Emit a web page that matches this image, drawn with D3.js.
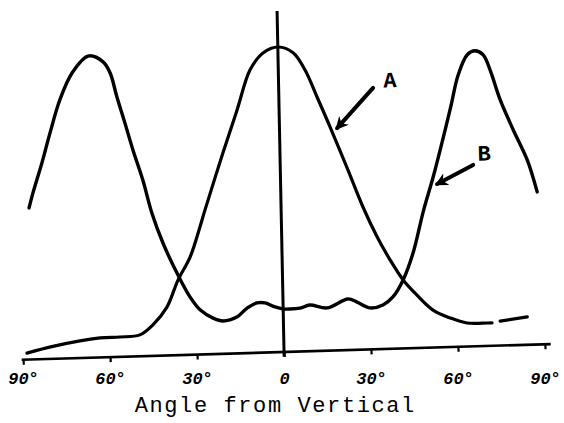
<!DOCTYPE html>
<html>
<head>
<meta charset="utf-8">
<script src="https://cdn.jsdelivr.net/npm/d3@7"></script>
<style>
  html, body { margin: 0; padding: 0; background: #fff; }
  svg { display: block; }
</style>
</head>
<body>
<svg id="chart" width="564" height="423"></svg>
<script>
// ---- data (angle in degrees from vertical, relative response) ----
const angleA = [-88.6,-79.2,-63.3,-56.4,-49.5,-44.9,-39.9,-35.8,-31.4,-27.7,-25.8,-19.0,-13.7,-8.8,-4.2,1.1,6.2,10.1,14.0,18.2,23.7,28.7,33.3,37.5,41.8,46.4,51.8,57.6,63.4,70.3,72.0,73.2,74.8,84.2];
const valueA = [2.1,4.1,6.3,6.4,6.9,10.0,15.6,24.2,31.5,41.1,46.5,64.8,78.5,91.3,96.6,98.4,96.4,90.8,81.9,72.1,58.6,46.0,36.2,28.7,22.1,17.1,12.1,9.4,7.6,7.4,7.4,null,7.9,9.0];

const angleB = [-86.4,-84.9,-81.5,-78.4,-74.7,-70.2,-64.5,-59.4,-57.1,-55.0,-52.5,-50.0,-46.9,-44.1,-40.6,-35.8,-31.8,-28.5,-24.1,-20.7,-15.9,-12.3,-8.8,-6.0,-2.6,0.1,2.5,6.0,9.4,15.3,22.6,25.7,30.1,34.6,38.1,41.8,45.5,49.6,53.2,56.6,60.0,62.8,66.2,68.9,71.7,73.9,77.1,81.3,85.8,88.9];
const valueB = [48.9,53.7,63.3,72.9,83.4,92.0,97.3,95.3,91.7,83.9,75.4,66.6,56.8,46.0,36.3,25.9,18.6,14.4,11.6,10.6,11.7,14.5,16.1,16.0,14.6,13.9,13.8,14.0,14.9,13.8,16.5,15.4,13.4,14.2,16.7,22.1,30.7,44.5,55.0,66.0,77.5,87.5,94.1,95.3,93.9,89.0,79.2,69.4,59.6,49.2];

const tickAngles = [-90,-60,-30,0,30,60,90];
const tickLabels = ["90°","60°","30°","0","30°","60°","90°"];
const xTitle = "Angle from Vertical";

// vertical reference line (hand-drawn, slightly leaning)
const zeroLineAngle = [0, 1.1];
const zeroLineValue = [-1.5, 110.0];

// annotations: label, label position, arrow tail, arrow head
const annoNames = ["A","B"];
const annoLabelAngle = [39.3, 71.0];
const annoLabelValue = [86.1, 61.6];
const annoTailAngle = [33.4, 67.1];
const annoTailValue = [84.3, 58.5];
const annoHeadAngle = [20.6, 54.5];
const annoHeadValue = [71.7, 52.7];

// ---- drawing ----
const svg = d3.select("#chart");
const x = d3.scaleLinear().domain([-90, 90]).range([23, 545]);
const y = d3.scaleLinear().domain([0, 100]).range([352, 42]);

const plot = svg.append("g")
  .attr("transform", `rotate(-1.7, ${x(0)}, ${y(0)})`);

// axis line + ticks
const axis = d3.axisBottom(x).tickValues(tickAngles).tickSize(5).tickSizeOuter(0).tickFormat("");
const axG = plot.append("g").attr("transform", `translate(0, ${y(0)})`).call(axis);
axG.select(".domain").attr("stroke", "#000").attr("stroke-width", 2.6)
  .attr("d", `M${x(-90.5)},0H${x(92)}`);
axG.selectAll(".tick line").attr("stroke", "#000").attr("stroke-width", 2.2);

// vertical line
const lineGen = d3.line().x(d => x(d[0])).y(d => y(d[1]));
plot.append("path")
  .attr("d", lineGen(zeroLineAngle.map((a, i) => [a, zeroLineValue[i]])))
  .attr("stroke", "#000").attr("stroke-width", 3).attr("fill", "none");

// curves
const curve = d3.line()
  .defined(d => d[1] !== null)
  .x(d => x(d[0])).y(d => y(d[1]))
  .curve(d3.curveCatmullRom.alpha(0.5));

plot.append("path")
  .attr("d", curve(angleA.map((a, i) => [a, valueA[i]])))
  .attr("stroke", "#000").attr("stroke-width", 3.2).attr("fill", "none")
  .attr("stroke-linecap", "round").attr("stroke-linejoin", "round");

plot.append("path")
  .attr("d", curve(angleB.map((a, i) => [a, valueB[i]])))
  .attr("stroke", "#000").attr("stroke-width", 3.4).attr("fill", "none")
  .attr("stroke-linecap", "round").attr("stroke-linejoin", "round");

// arrowhead marker
svg.append("defs").append("marker")
  .attr("id", "head").attr("viewBox", "0 0 10 10")
  .attr("refX", 8).attr("refY", 5)
  .attr("markerWidth", 13).attr("markerHeight", 13)
  .attr("markerUnits", "userSpaceOnUse")
  .attr("orient", "auto")
  .append("path").attr("d", "M0,0L10,5L0,10L3,5Z").attr("fill", "#000");

annoNames.forEach((n, i) => {
  plot.append("path")
    .attr("d", lineGen([[annoTailAngle[i], annoTailValue[i]], [annoHeadAngle[i], annoHeadValue[i]]]))
    .attr("stroke", "#000").attr("stroke-width", 4).attr("fill", "none")
    .attr("stroke-linecap", "round")
    .attr("marker-end", "url(#head)");
  plot.append("text")
    .attr("x", x(annoLabelAngle[i])).attr("y", y(annoLabelValue[i]))
    .attr("text-anchor", "middle").attr("dominant-baseline", "central")
    .attr("font-family", "'Liberation Mono', 'DejaVu Sans Mono', monospace")
    .attr("font-weight", "bold").attr("font-size", 22)
    .text(n);
});

// tick labels (unrotated)
const labAxis = d3.axisBottom(x).tickValues(tickAngles).tickSize(0)
  .tickFormat((d, i) => tickLabels[i]);
const labG = svg.append("g").attr("transform", `translate(0, ${y(0) + 17})`).call(labAxis);
labG.select(".domain").remove();
labG.selectAll(".tick text")
  .attr("font-family", "'Liberation Mono', 'DejaVu Sans Mono', monospace")
  .attr("font-weight", "bold").attr("font-style", "italic")
  .attr("font-size", 17).attr("fill", "#000");

// axis title
svg.append("text")
  .attr("x", x(-3)).attr("y", 412)
  .attr("text-anchor", "middle")
  .attr("font-family", "'Liberation Mono', 'DejaVu Sans Mono', monospace")
  .attr("font-size", 22).attr("letter-spacing", 1.6)
  .attr("fill", "#000")
  .text(xTitle);
</script>
</body>
</html>
